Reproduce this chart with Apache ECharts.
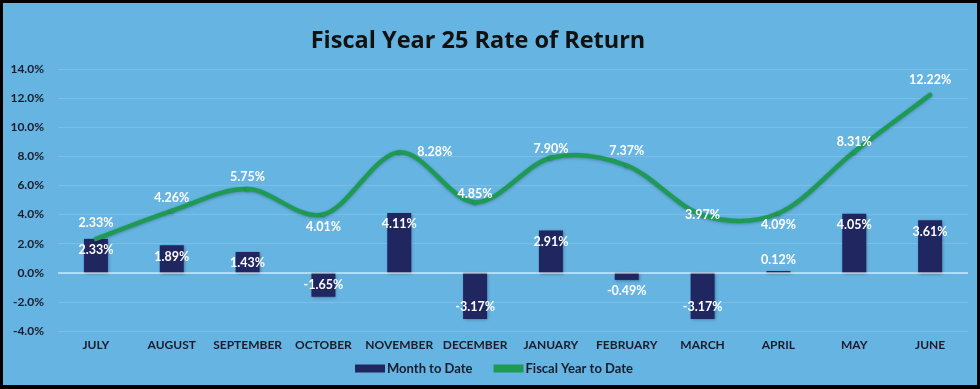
<!DOCTYPE html>
<html><head><meta charset="utf-8">
<script src="https://cdn.jsdelivr.net/npm/echarts@6/dist/echarts.min.js"></script>
<style>
html,body{margin:0;padding:0;background:#000;}
#wrap{position:absolute;left:0;top:0;width:980px;height:389px;background:#000;}
#chart{position:absolute;left:3px;top:3px;width:974px;height:382px;}
</style></head>
<body><div id="wrap"><div id="chart"></div></div>
<script>
const titleText = 'Fiscal Year 25 Rate of Return';
const months = ['JULY','AUGUST','SEPTEMBER','OCTOBER','NOVEMBER','DECEMBER','JANUARY','FEBRUARY','MARCH','APRIL','MAY','JUNE'];
const monthToDate = [2.33, 1.89, 1.43, -1.65, 4.11, -3.17, 2.91, -0.49, -3.17, 0.12, 4.05, 3.61];
const fiscalYearToDate = [2.33, 4.26, 5.75, 4.01, 8.28, 4.85, 7.90, 7.37, 3.97, 4.09, 8.31, 12.22];
const yTicks = [-4, -2, 0, 2, 4, 6, 8, 10, 12, 14];
const seriesNames = ['Month to Date', 'Fiscal Year to Date'];

const FONT = 'Lato';
const GREEN = '#1e9a54';
const labelStyle = {color:'#ffffff', fontWeight:'bold', fontSize:12.5, fontFamily:FONT, formatter: p => (Array.isArray(p.value)?p.value[1]:p.value).toFixed(2) + '%'};

// label placements (styling)
const barLabelPos = ['insideTop','insideTop','insideTop','insideBottom','insideTop','insideBottom','insideTop','bottom','insideBottom','top','insideTop','insideTop'];
const lineLabelCfg = [
  {position:'top', distance:9},
  {position:'top', distance:6},
  {position:'top', distance:6, offset:[13,0]},
  {position:'bottom', distance:6, offset:[10,0]},
  {position:'right', distance:18},
  {position:'top', distance:2, offset:[15,0]},
  {position:'top', distance:2, offset:[9,0]},
  {position:'top', distance:8, offset:[1,0]},
  {position:'inside', offset:[5,-6]},
  {position:'bottom', distance:5, offset:[2,0]},
  {position:'top', distance:3, offset:[-2,0]},
  {position:'top', distance:8}
];

const barData = monthToDate.map((v,i) => ({value:v, label:{position:barLabelPos[i], distance:5}}));
const lineData = fiscalYearToDate.map((v,i) => ({value:v, label:lineLabelCfg[i]}));
const curveData = fiscalYearToDate.map((v,i) => [i, v]);

// Excel-like smoothed segment (Catmull-Rom -> cubic Bezier) drawn through axis coords
function renderCurve(params, api) {
  const i = api.value(0);
  const n = fiscalYearToDate.length;
  if (i >= n - 1) return null;
  const pt = j => api.coord([Math.max(0, Math.min(n-1, j)), fiscalYearToDate[Math.max(0, Math.min(n-1, j))]]);
  const p0 = pt(i-1), p1 = pt(i), p2 = pt(i+1), p3 = pt(i+2);
  const t = 1/6;
  return {
    type:'bezierCurve',
    shape:{x1:p1[0], y1:p1[1], x2:p2[0], y2:p2[1],
      cpx1:p1[0] + (p2[0]-p0[0])*t, cpy1:p1[1] + (p2[1]-p0[1])*t,
      cpx2:p2[0] - (p3[0]-p1[0])*t, cpy2:p2[1] - (p3[1]-p1[1])*t},
    style:{stroke:GREEN, lineWidth:4.5, fill:null, lineCap:'round',
      shadowColor:'rgba(0,0,0,0.25)', shadowBlur:3, shadowOffsetY:1}
  };
}

const chart = echarts.init(document.getElementById('chart'), null, {renderer:'canvas'});
chart.setOption({
  backgroundColor:'#66b4e2',
  animation:false,
  title:{text:titleText, left:470, top:21, textAlign:'center',
    textStyle:{fontFamily:'Open Sans', fontWeight:'bold', fontSize:23.5, color:'#111111'}},
  grid:{left:55, right:9, top:66, bottom:54, containLabel:false},
  legend:{left:347, top:354, itemWidth:30, itemHeight:8, itemGap:21,
    textStyle:{fontFamily:FONT, fontWeight:'bold', fontSize:13, color:'#1b1b2b', padding:[0,0,0,-3]},
    data:[{name:seriesNames[0], icon:'rect'}, {name:seriesNames[1], icon:'rect', itemStyle:{color:GREEN}}]},
  xAxis:{type:'category', data:months,
    axisLine:{show:false}, axisTick:{show:false},
    axisLabel:{interval:0, fontFamily:FONT, fontWeight:'bold', fontSize:12, color:'#1b1b2b', margin:8}},
  yAxis:{type:'value', min:yTicks[0], max:yTicks[yTicks.length-1], interval:2,
    axisLine:{show:false}, axisTick:{show:false},
    axisLabel:{fontFamily:FONT, fontWeight:'bold', fontSize:12, color:'#1b1b2b', margin:14,
      formatter: v => v.toFixed(1) + '%'},
    splitLine:{lineStyle:{color:'rgba(255,255,255,0.14)', width:1}}},
  series:[
    {name:seriesNames[0], type:'bar', data:barData, barWidth:24, z:2,
      itemStyle:{color:'#1f2660', shadowColor:'rgba(0,0,0,0.35)', shadowBlur:3, shadowOffsetX:1, shadowOffsetY:1},
      label:Object.assign({show:true}, labelStyle),
      markLine:{silent:true, symbol:'none', label:{show:false},
        lineStyle:{color:'rgba(255,255,255,0.65)', width:1.5, type:'solid'}, data:[{yAxis:0}]}},
    {name:seriesNames[1], type:'custom', data:curveData, renderItem:renderCurve, z:3, silent:true,
      itemStyle:{color:GREEN}},
    {name:seriesNames[1], type:'line', data:lineData, showSymbol:true, symbol:'circle', symbolSize:0.1, z:4,
      lineStyle:{opacity:0}, itemStyle:{color:GREEN},
      labelLayout:{hideOverlap:false},
      label:Object.assign({show:true}, labelStyle)}
  ]
});
</script></body></html>
